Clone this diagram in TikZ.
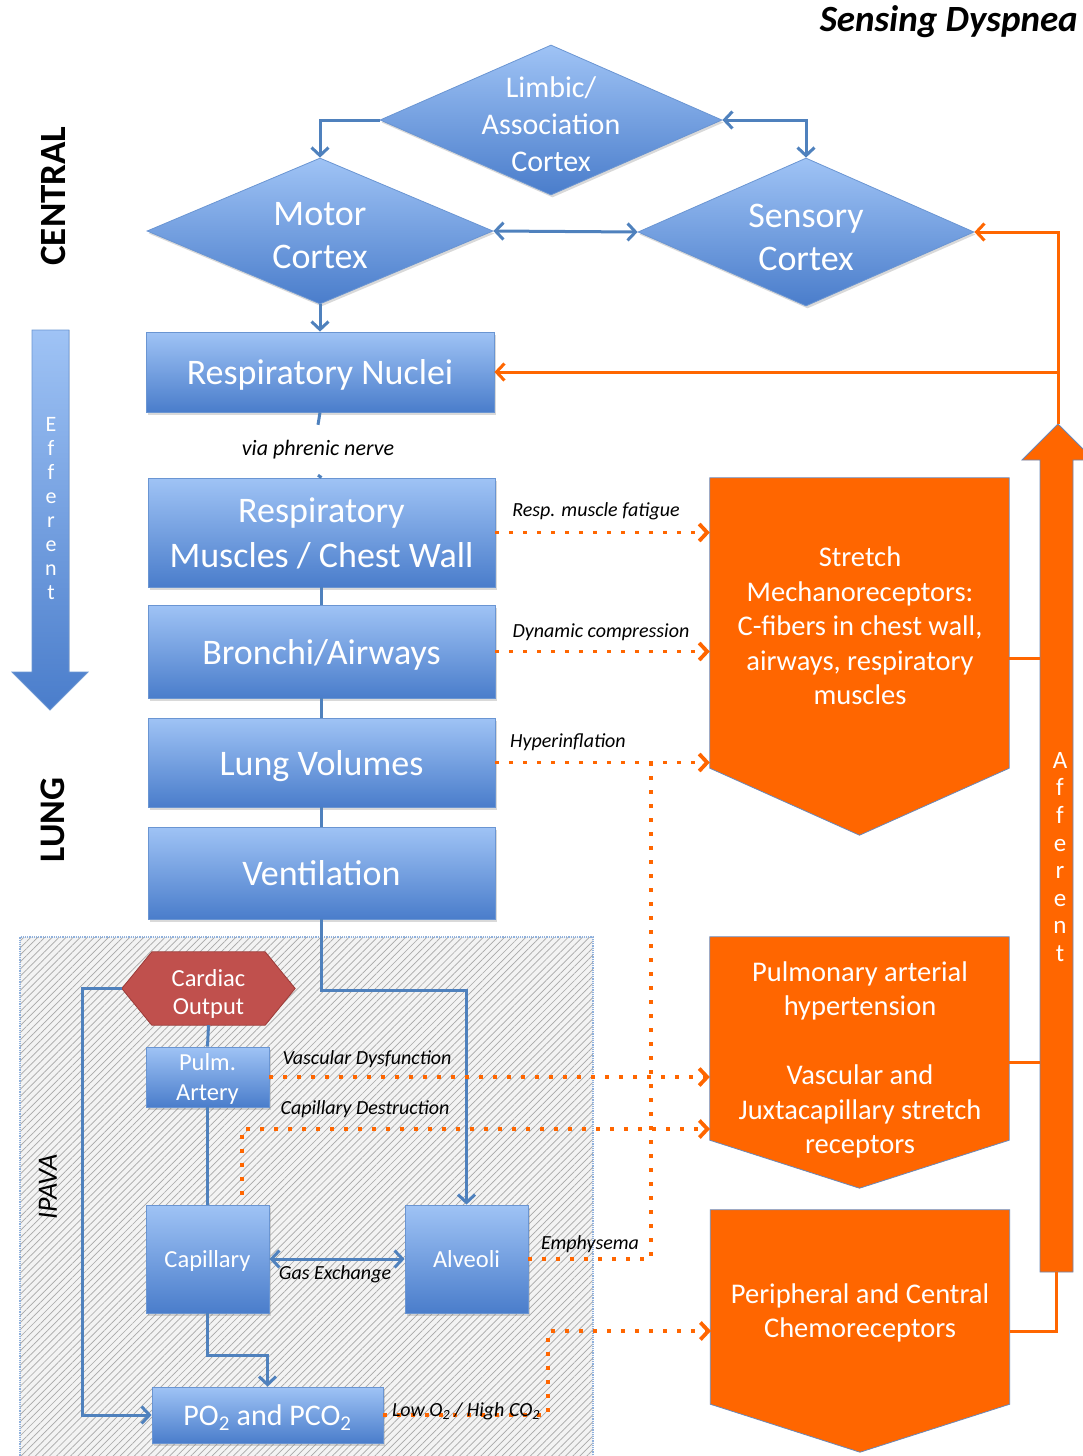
\documentclass[tikz,border=0pt]{standalone}
\usepackage{fontspec}
\setmainfont{Carlito}
\usetikzlibrary{arrows.meta,shadows,calc,patterns.meta,shapes.geometric}
\definecolor{bTop}{HTML}{9FC3F5}
\definecolor{bBot}{HTML}{4A7DCB}
\definecolor{bLine}{HTML}{4F81BD}
\definecolor{bEdge}{HTML}{6A95D2}
\definecolor{oFill}{HTML}{FF6600}
\definecolor{oEdge}{HTML}{6A88B8}
\definecolor{rFill}{HTML}{C0504D}
\definecolor{rEdge}{HTML}{9B3B38}
\definecolor{hatchBg}{HTML}{F3F3F3}
\definecolor{hatchLn}{HTML}{A8A8A8}
\definecolor{ipEdge}{HTML}{8FB0DC}
\newcommand{\fsz}[2]{\fontsize{#1}{#2}\selectfont}
\begin{document}
\begin{tikzpicture}[x=1pt,y=-1pt,
  bshadow/.style={drop shadow={shadow xshift=1.5pt,shadow yshift=-2.5pt,opacity=0.3}},
  bluebox/.style={rectangle,draw=bEdge,line width=0.8pt,top color=bTop,bottom color=bBot,text=white,inner sep=0pt,align=center,text depth=0pt,bshadow},
  bigbox/.style={bluebox,minimum width=347pt,font=\fsz{36}{45}},
  smallbox/.style={bluebox,minimum width=123pt,font=\fsz{24.5}{30}},
  bdiam/.style={diamond,draw=bEdge,line width=0.8pt,top color=bTop,bottom color=bBot,inner sep=0pt,bshadow},
  dtext/.style={text=white,align=center,inner sep=0pt},
  bconn/.style={draw=bLine,line width=3pt},
  btip/.style={-{Straight Barb[length=8pt,width=17pt]}},
  btiptwo/.style={{Straight Barb[length=8pt,width=17pt]}-{Straight Barb[length=8pt,width=17pt]}},
  oline/.style={draw=oFill,line width=3pt},
  otip/.style={-{Straight Barb[length=8pt,width=17pt]}},
  odot/.style={draw=oFill,line width=3.8pt,dash pattern=on 3.8pt off 10.2pt},
  ofill/.style={fill=oFill,draw=oEdge,line width=0.8pt},
  otext/.style={text=white,align=center,inner sep=0pt,font=\fsz{28.5}{34.5}},
  lab/.style={font=\fsz{20}{24}\itshape,inner sep=0pt},
  orect/.style={rectangle,inner sep=0pt,minimum width=299pt}
]
\useasboundingbox (0,0) rectangle (1083,1456);
\clip (0,0) rectangle (1083,1456);

% IPAVA region
\fill[hatchBg] (20,937) rectangle (593,1460);
\fill[pattern={Lines[angle=45,distance=5pt,line width=0.7pt]},pattern color=hatchLn] (20,937) rectangle (593,1460);
\draw[ipEdge,line width=1.2pt,densely dotted] (20,1460) -- (20,937) -- (593,937) -- (593,1460);

% title and side labels
\node[anchor=east,font=\fsz{37}{44}\bfseries\itshape,inner sep=0pt] (title) at (1078,22) {Sensing Dyspnea};
\node[rotate=90,font=\fsz{37}{44}\bfseries,inner sep=0pt] (central) at (53,196) {CENTRAL};
\node[rotate=90,font=\fsz{36}{44}\bfseries,inner sep=0pt] (lung) at (53,820) {LUNG};
\node[rotate=90,font=\fsz{28}{34}\itshape,inner sep=0pt] (ipava) at (48,1187) {IPAVA};

% efferent arrow
\filldraw[draw=bEdge,line width=0.8pt,top color=bTop,bottom color=bBot] (32,330) -- (69,330) -- (69,672) -- (88,672) -- (50,710) -- (12,672) -- (32,672) -- cycle;
\node[text=white,align=center,inner sep=0pt,font=\fsz{22}{24}] (eff) at (51,509) {E\\f\\f\\e\\r\\e\\n\\t};

% afferent arrow
\coordinate (affTip) at (1058,424);
\coordinate (affBot) at (1056,1272);
\filldraw[ofill] (1040,1272) -- (1073,1272) -- (1073,460) -- (1094,460) -- (affTip) -- (1022,460) -- (1040,460) -- cycle;
\node[text=white,align=center,inner sep=0pt,font=\fsz{25}{27.6}] (aff) at (1060,857) {A\\f\\f\\e\\r\\e\\n\\t};

% diamonds
\node[bdiam,minimum width=342pt,minimum height=150pt] (lim) at (551,120) {};
\node[dtext,font=\fsz{30}{37}] (limt) at (551,124) {Limbic/\\Association\\Cortex};
\node[bdiam,minimum width=346pt,minimum height=146pt] (mc) at (320,231) {};
\node[dtext,font=\fsz{36}{43}] (mct) at (320,236) {Motor\\Cortex};
\node[bdiam,minimum width=336pt,minimum height=148pt] (sc) at (806,232) {};
\node[dtext,font=\fsz{36}{43}] (sct) at (806,237) {Sensory\\Cortex};

% main boxes
\node[bigbox,minimum width=348pt,minimum height=80pt] (rn) at (320,372) {Respiratory Nuclei};
\node[lab,font=\fsz{22}{26}\itshape,minimum height=50pt] (vp) at (318,450) {via phrenic nerve};
\node[bigbox,minimum height=109pt] (rm) at (321.5,532.5) {Respiratory\\Muscles / Chest Wall};
\node[bigbox,minimum height=93pt] (br) at (321.5,651.5) {Bronchi/Airways};
\node[bigbox,minimum height=89pt] (lv) at (321.5,762.5) {Lung Volumes};
\node[bigbox,minimum height=92pt] (ve) at (321.5,873) {Ventilation};

% IPAVA nodes
\path node[rectangle,inner sep=0pt,minimum width=173pt,minimum height=73pt] (co) at (208.5,988.5) {};
\filldraw[fill=rFill,draw=rEdge,line width=0.8pt] (co.west) -- ($(co.north west)+(30,0)$) -- ($(co.north east)+(-30,0)$) -- (co.east) -- ($(co.south east)+(-30,0)$) -- ($(co.south west)+(30,0)$) -- cycle;
\node[dtext,font=\fsz{24.5}{28}] (cot) at (208.5,994) {Cardiac\\Output};
\node[smallbox,minimum height=60pt] (pa) at (207.5,1077) {Pulm.\\Artery};
\node[smallbox,minimum height=108pt] (cap) at (207.5,1259) {Capillary};
\node[smallbox,minimum height=108pt] (alv) at (466.5,1259) {Alveoli};
\node[bluebox,minimum width=231pt,minimum height=56pt,font=\fsz{30}{36}] (po) at (267.5,1415) {PO\textsubscript{2} and PCO\textsubscript{2}};

% orange receptor shapes
\path node[orect,minimum height=290pt] (sm) at (859.5,623) {};
\filldraw[ofill] (sm.north west) -- (sm.north east) -- (sm.south east) -- ($(sm.south)+(0,67)$) -- (sm.south west) -- cycle;
\node[otext] (smt) at (860,626) {Stretch\\Mechanoreceptors:\\C-fibers in chest wall,\\airways, respiratory\\muscles};

\path node[orect,minimum height=203pt] (pu) at (859.5,1038.5) {};
\filldraw[ofill] (pu.north west) -- (pu.north east) -- (pu.south east) -- ($(pu.south)+(0,48)$) -- (pu.south west) -- cycle;
\node[otext] (put) at (860,1060) {Pulmonary arterial\\hypertension\\~\\Vascular and\\Juxtacapillary stretch\\receptors};

\path node[orect,minimum height=194pt] (pe) at (860,1307) {};
\filldraw[ofill] (pe.north west) -- (pe.north east) -- (pe.south east) -- ($(pe.south)+(0,48)$) -- (pe.south west) -- cycle;
\node[otext] (pet) at (860,1313) {Peripheral and Central\\Chemoreceptors};

% blue connectors
\draw[bconn,btip] (lim.west) -| (mc.north);
\draw[bconn,btiptwo] (lim.east) -| (sc.north);
\draw[bconn,btiptwo] (mc.east) -- (sc.west);
\draw[bconn,btip] (mc.south) -- (rn.north);
\draw[bconn] (rn.south) -- (vp.north);
\draw[bconn] (vp.south) -- (rm.north);
\draw[bconn] (rm.south) -- (br.north);
\draw[bconn] (br.south) -- (lv.north);
\draw[bconn] (lv.south) -- (ve.north);
\draw[bconn,btip] (ve.south) -- ++(0,71) -| (alv.north);
\draw[bconn,btip] (co.west) -- ++(-39,0) |- (po.west);
\draw[bconn] (co.south) -- (pa.north);
\draw[bconn] (pa.south) -- (cap.north);
\draw[bconn,btiptwo] (cap.east) -- (alv.west);
\draw[bconn,btip] (cap.south) -- ++(0,42) -| (po.north);

% orange dotted connectors
\coordinate (em) at (651,762);
\coordinate (cdStart) at (242,1195);
\coordinate (cdEnd) at (710,1129);
\coordinate (loc) at (548,1331);
\coordinate (peIn) at (711,1331);
\draw[odot,otip] (rm.east) -- (rm.east -| sm.west);
\draw[odot,otip] (br.east) -- (br.east -| sm.west);
\draw[odot,otip] (lv.east) -- (lv.east -| sm.west);
\draw[odot] (alv.east) -| (em);
\draw[odot,otip] (pa.east) -- (pa.east -| pu.west);
\draw[odot,otip] (cdStart) |- (cdEnd);
\draw[odot,otip] (po.east) -| (loc) -- (peIn);

% labels
\node[lab] (l1) at (596,511) {Resp. muscle fatigue};
\node[lab] (l2) at (601,632) {Dynamic compression};
\node[lab] (l3) at (568,742) {Hyperinflation};
\node[lab] (l4) at (367,1059) {Vascular Dysfunction};
\node[lab] (l5) at (365,1109) {Capillary Destruction};
\node[lab] (l6) at (590,1244) {Emphysema};
\node[lab] (l7) at (466,1411) {Low O\textsubscript{2} / High CO\textsubscript{2}};
\node[lab] (l8) at (335,1274) {Gas Exchange};

% orange solid connectors
\coordinate (affS1) at (1040,658);
\coordinate (affS2) at (1040,1062);
\draw[oline,otip] (affTip) |- (sc.east);
\draw[oline,otip] (affTip |- rn.east) -- (rn.east);
\draw[oline] (sm.east |- affS1) -- (affS1);
\draw[oline] (pu.east |- affS2) -- (affS2);
\draw[oline] (pe.east |- peIn) -| (affBot);
\end{tikzpicture}
\end{document}
